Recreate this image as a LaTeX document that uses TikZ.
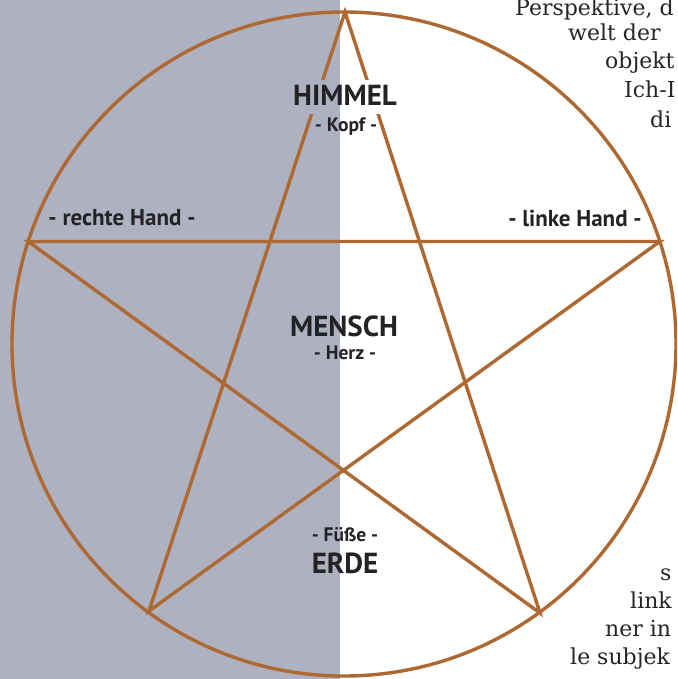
\documentclass[tikz,border=0pt]{standalone}
\usepackage{fontspec}
\setmainfont{PT Sans}
\newfontfamily\bodyserif{DejaVu Serif}
\definecolor{bgrey}{RGB}{174,177,192}
\definecolor{starbrown}{RGB}{174,104,50}
\definecolor{labeltext}{RGB}{35,35,38}
\tikzset{
  starline/.style={draw=starbrown, line width=3.4pt, line join=miter},
  bigword/.style={text=labeltext, inner sep=0pt, font=\bfseries\fontsize{29}{29}\selectfont},
  smallword/.style={text=labeltext, inner sep=0pt, font=\bfseries\fontsize{19.5}{19.5}\selectfont},
  handword/.style={text=labeltext, inner sep=0pt, font=\bfseries\fontsize{23}{23}\selectfont},
  bodyline/.style={text=black!85, inner sep=0pt, anchor=base west, font=\bodyserif\fontsize{22}{22}\selectfont}
}
\begin{document}
\begin{tikzpicture}[x=1pt,y=-1pt]
\useasboundingbox (0,0) rectangle (677,679);
\clip (0,0) rectangle (677,679);
\fill[white] (0,0) rectangle (677,679);
\fill[bgrey] (0,0) rectangle (340,679);
% background paragraph fragments
\node[bodyline] (p1) at (515,16) {Perspektive, d};
\node[bodyline] (p2) at (568,41) {welt der};
\node[bodyline] (p3) at (605,69) {objekt};
\node[bodyline] (p4) at (624,98) {Ich-I};
\node[bodyline] (p5) at (650,128) {di};
\node[bodyline] (p6) at (660,580) {s};
\node[bodyline] (p7) at (630,608) {link};
\node[bodyline] (p8) at (605,636) {ner in};
\node[bodyline] (p9) at (570,664) {le subjek};
% circle and pentagram
\coordinate (c) at (344,344);
\coordinate (vt) at (345,12);
\coordinate (vr) at (659.8,241.5);
\coordinate (vl) at (28.2,241.5);
\coordinate (vbr) at (540,613);
\coordinate (vbl) at (149,611);
\draw[starline] (c) circle[radius=332pt];
\draw[starline] (vt) -- (vbl) -- (vr) -- (vl) -- (vbr) -- cycle;
% knock-out band behind HIMMEL
\fill[white] (283,80) rectangle (410,114);
\fill[bgrey] (283,80) rectangle (340,114);
% labels
\node[bigword] (himmel) at (345,95) {HIMMEL};
\node[smallword] (kopf) at (346,127) {- Kopf -};
\node[bigword] (mensch) at (344,326) {MENSCH};
\node[smallword] (herz) at (345,353) {- Herz -};
\node[smallword] (fuesse) at (345,535) {- Füße -};
\node[bigword] (erde) at (345,563) {ERDE};
\node[handword] (rhand) at (122,218) {- rechte Hand -};
\node[handword] (lhand) at (575,218) {- linke Hand -};
\end{tikzpicture}
\end{document}
